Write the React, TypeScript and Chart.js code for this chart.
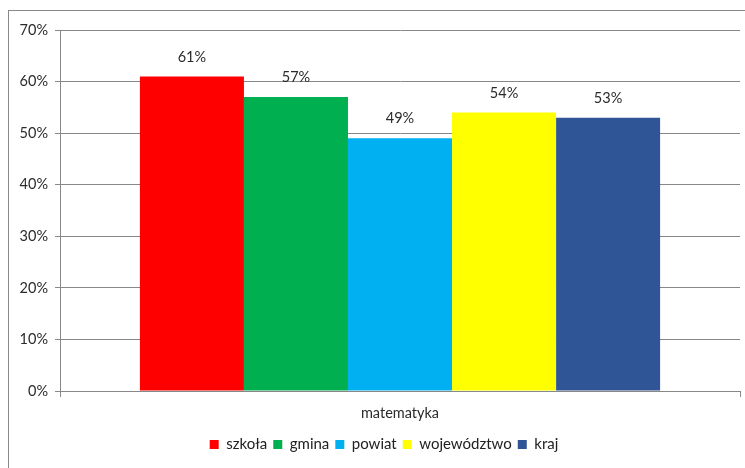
import React, { useEffect, useRef } from "react";
import { Chart, registerables } from "chart.js";

Chart.register(...registerables);

const categories = ["matematyka"];
const seriesNames = ["szkoła", "gmina", "powiat", "województwo", "kraj"];
const seriesValues = [[61], [57], [49], [54], [53]];
const seriesColors = ["#FF0000", "#00B050", "#00B0F0", "#FFFF00", "#2F5597"];
const yTicks = [0, 10, 20, 30, 40, 50, 60, 70];

const FONT = "Lato, 'Open Sans', sans-serif";
const GRID = "#888888";
const FS = 14.5;

const valueLabels = {
  id: "valueLabels",
  afterDatasetsDraw(chart: any) {
    const ctx = chart.ctx;
    ctx.save();
    ctx.font = `${FS}px ${FONT}`;
    ctx.fillStyle = "#2b2b2b";
    ctx.textAlign = "center";
    ctx.textBaseline = "middle";
    chart.data.datasets.forEach((ds: any, i: number) => {
      const meta = chart.getDatasetMeta(i);
      meta.data.forEach((el: any, j: number) => {
        ctx.fillText(`${ds.data[j]}%`, el.x, el.y - 19.5);
      });
    });
    ctx.restore();
  },
};

const legendShift = {
  id: "legendShift",
  afterLayout(chart: any) {
    if (chart.legend) {
      chart.legend.left += 14;
      chart.legend.right += 14;
    }
  },
};

export default function App() {
  const ref = useRef<HTMLCanvasElement>(null);
  useEffect(() => {
    if (!ref.current) return;
    const chart = new Chart(ref.current, {
      type: "bar",
      data: {
        labels: categories,
        datasets: seriesNames.map((name, i) => ({
          label: name,
          data: seriesValues[i],
          backgroundColor: seriesColors[i],
          borderWidth: 0,
          categoryPercentage: 0.765,
          barPercentage: 1,
        })),
      },
      options: {
        responsive: false,
        animation: false,
        devicePixelRatio: 1,
        layout: { padding: { left: 0, right: 5, top: 30, bottom: 6 } },
        plugins: {
          tooltip: { enabled: false },
          legend: {
            position: "bottom",
            labels: {
              boxWidth: 9,
              boxHeight: 9,
              padding: 6,
              color: "#222222",
              font: { family: FONT, size: 15 },
            },
          },
        },
        scales: {
          x: {
            type: "category",
            offset: true,
            afterFit: (s: any) => {
              s.height = 40;
            },
            grid: {
              offset: true,
              drawOnChartArea: false,
              drawTicks: true,
              tickLength: 6,
              color: GRID,
            },
            border: { color: GRID },
            ticks: {
              color: "#2b2b2b",
              padding: 8,
              font: { family: FONT, size: FS },
            },
          },
          y: {
            min: yTicks[0],
            max: yTicks[yTicks.length - 1],
            afterFit: (s: any) => {
              s.width = 60;
            },
            afterBuildTicks: (s: any) => {
              s.ticks = yTicks.map((v) => ({ value: v }));
            },
            grid: { color: GRID, tickLength: 5 },
            border: { color: GRID },
            ticks: {
              color: "#2b2b2b",
              padding: 7,
              font: { family: FONT, size: FS },
              callback: (v: any) => `${v}%`,
            },
          },
        },
      },
      plugins: [valueLabels, legendShift],
    });
    return () => chart.destroy();
  }, []);

  return (
    <div
      style={{
        position: "fixed",
        left: 0,
        top: 0,
        width: 745,
        height: 468,
        overflow: "hidden",
        background: "#ffffff",
      }}
    >
      <div
        style={{
          position: "absolute",
          left: 8,
          top: 10,
          width: 780,
          height: 500,
          border: "1px solid #888888",
        }}
      />
      <canvas
        ref={ref}
        width={745}
        height={468}
        style={{ position: "absolute", left: 0, top: 0, width: 745, height: 468 }}
      />
    </div>
  );
}
